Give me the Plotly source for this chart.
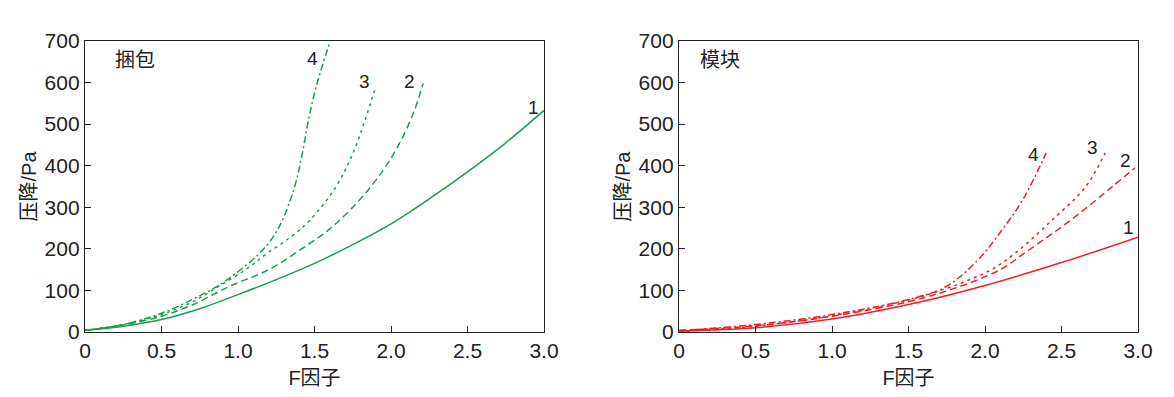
import plotly.graph_objects as go

# ---- data: 捆包 (left) ----
L1_x = [0, 0.25, 0.5, 0.75, 1.0, 1.25, 1.5, 1.75, 2.0, 2.25, 2.5, 2.75, 3.0]
L1_y = [4, 14, 30, 56, 90, 126, 165, 210, 260, 320, 385, 455, 533]
L2_x = [0, 0.25, 0.5, 0.7, 0.94, 1.2, 1.4, 1.6, 1.8, 1.95, 2.05, 2.15, 2.21]
L2_y = [4, 17, 38, 65, 109, 150, 196, 248, 320, 390, 450, 530, 598]
L3_x = [0, 0.25, 0.5, 0.7, 0.87, 1.05, 1.19, 1.35, 1.47, 1.64, 1.75, 1.83, 1.9]
L3_y = [4, 18, 42, 72, 109, 150, 189, 230, 269, 349, 429, 509, 590]
L4_x = [0, 0.25, 0.5, 0.7, 0.86, 1.0, 1.14, 1.23, 1.29, 1.37, 1.42, 1.46, 1.51, 1.6]
L4_y = [4, 18, 45, 78, 109, 145, 189, 229, 269, 349, 429, 509, 589, 697]

# ---- data: 模块 (right) ----
R1_x = [0, 0.5, 1.0, 1.5, 2.0, 2.5, 3.0]
R1_y = [2, 10, 31, 66, 112, 167, 228]
R2_x = [0, 0.5, 1.0, 1.5, 1.8, 2.1, 2.255, 2.56, 2.83, 2.98]
R2_y = [4, 15, 38, 73, 105, 150, 189, 269, 349, 395]
R3_x = [0, 0.5, 1.0, 1.5, 1.78, 2.036, 2.195, 2.438, 2.657, 2.786]
R3_y = [1, 14, 39, 77, 109, 149, 189, 269, 349, 431]
R4_x = [0, 0.5, 1.0, 1.5, 1.75, 1.95, 2.1, 2.25, 2.4]
R4_y = [3, 18, 42, 78, 110, 172, 240, 320, 431]

L_labels = [("4", 1.49, 657), ("3", 1.83, 602), ("2", 2.12, 602), ("1", 2.93, 539)]
R_labels = [("4", 2.32, 427), ("3", 2.70, 443), ("2", 2.92, 413), ("1", 2.94, 252)]
x_ticks = [0, 0.5, 1.0, 1.5, 2.0, 2.5, 3.0]
x_ticktext = ["0", "0.5", "1.0", "1.5", "2.0", "2.5", "3.0"]
y_ticks = [0, 100, 200, 300, 400, 500, 600, 700]

GREEN = "#16a04c"
RED = "#ee2024"
dashes = ["solid", "7px,4px", "3px,4px", "7px,3px,2px,3px"]

fig = go.Figure()
left = [(L1_x, L1_y), (L2_x, L2_y), (L3_x, L3_y), (L4_x, L4_y)]
right = [(R1_x, R1_y), (R2_x, R2_y), (R3_x, R3_y), (R4_x, R4_y)]
for (xs, ys), d in zip(left, dashes):
    fig.add_trace(go.Scatter(x=xs, y=ys, mode="lines", xaxis="x", yaxis="y",
                             line=dict(color=GREEN, width=1.5, dash=d, shape="spline", smoothing=1.0),
                             showlegend=False))
for (xs, ys), d in zip(right, dashes):
    fig.add_trace(go.Scatter(x=xs, y=ys, mode="lines", xaxis="x2", yaxis="y2",
                             line=dict(color=RED, width=1.5, dash=d, shape="spline", smoothing=1.0),
                             showlegend=False))

FONT = "Liberation Sans, Arial, Noto Sans CJK SC, sans-serif"
ann = []
for t, x, y in L_labels:
    ann.append(dict(x=x, y=y, xref="x", yref="y", text=t, showarrow=False, font=dict(size=19, color="#222")))
for t, x, y in R_labels:
    ann.append(dict(x=x, y=y, xref="x2", yref="y2", text=t, showarrow=False, font=dict(size=19, color="#222")))
ann.append(dict(x=0.33, y=654, xref="x", yref="y", text="捆包", showarrow=False, font=dict(size=20, color="#222")))
ann.append(dict(x=0.27, y=654, xref="x2", yref="y2", text="模块", showarrow=False, font=dict(size=20, color="#222")))

axis_common = dict(showline=True, linecolor="#222", linewidth=1.3, mirror=True, ticks="inside",
                   ticklen=6, tickwidth=1.3, tickcolor="#222", showgrid=False, zeroline=False,
                   automargin=False, tickfont=dict(size=21, color="#222", family=FONT))
W, H, OFF = 1174, 397, 8
YD = [(H - (332 - OFF)) / H, (H - (41 - OFF)) / H]
fig.update_layout(
    width=W, height=H, margin=dict(l=0, r=0, t=0, b=0),
    paper_bgcolor="white", plot_bgcolor="white",
    font=dict(family=FONT, color="#222"),
    xaxis=dict(domain=[(85 - OFF)/W, (544 - OFF)/W], range=[0, 3.0], tickvals=x_ticks, ticktext=x_ticktext,
               anchor="y", title=dict(text="F因子", font=dict(size=20), standoff=9), **axis_common),
    yaxis=dict(domain=YD, range=[0, 700], tickvals=y_ticks, anchor="x",
               title=dict(text="压降/Pa", font=dict(size=20), standoff=2), **axis_common),
    xaxis2=dict(domain=[(679 - OFF)/W, (1138 - OFF)/W], range=[0, 3.0], tickvals=x_ticks, ticktext=x_ticktext,
                anchor="y2", title=dict(text="F因子", font=dict(size=20), standoff=9), **axis_common),
    yaxis2=dict(domain=YD, range=[0, 700], tickvals=y_ticks, anchor="x2",
                title=dict(text="压降/Pa", font=dict(size=20), standoff=2), **axis_common),
    annotations=ann,
)
fig.write_html("out.html")
